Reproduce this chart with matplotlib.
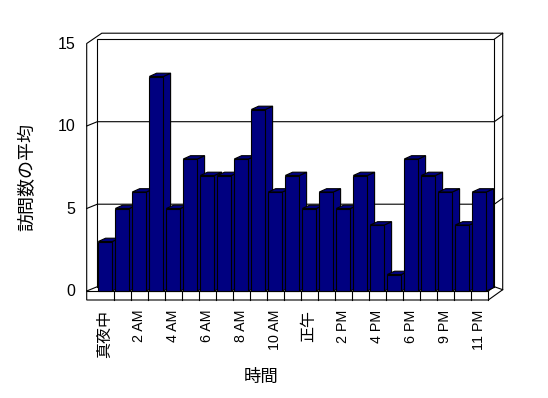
import matplotlib
matplotlib.use("Agg")
import matplotlib.pyplot as plt
from matplotlib.patches import Polygon

plt.rcParams['font.family'] = ['Liberation Sans', 'Noto Sans CJK JP', 'DejaVu Sans']

# ---- data ----
categories = ['真夜中', '1 AM', '2 AM', '3 AM', '4 AM', '5 AM', '6 AM', '7 AM',
              '8 AM', '9 AM', '10 AM', '11 AM', '正午', '1 PM', '2 PM', '3 PM',
              '4 PM', '5 PM', '6 PM', '7 PM', '9 PM', '10 PM', '11 PM']
values = [3, 5, 6, 13, 5, 8, 7, 7, 8, 11, 6, 7, 5, 6, 5, 7, 4, 1, 8, 7, 6, 4, 6]
y_ticks = [0, 5, 10, 15]
x_title = '時間'
y_title = '訪問数の平均'

# ---- layout (category units in x, value units in y) ----
W, H, DPI = 548, 398, 100
PX_X = 17.0      # pixels per category
PX_Y = 16.5      # pixels per value unit
ORIG = (97.3, 291.0)  # pixel of (0, 0) on bar front plane
n = len(values)
VMAX = y_ticks[-1]

XF0, XF1 = -10.6 / PX_X, n          # floor front left/right
XB0, XB1 = 0.0, n + 6.0 / PX_X      # back wall left/right
ZB = 4.3 / PX_Y                     # back plane lift
FLOOR_H = 9.0 / PX_Y
TX, TY = 8.4 / PX_X, 6.0 / PX_Y     # back wall thickness
BX0, BX1 = 1.0 / PX_X, 15.0 / PX_X  # bar front face within slot
BDX, BDY = 7.3 / PX_X, 3.3 / PX_Y   # bar depth

fig = plt.figure(figsize=(W / DPI, H / DPI), dpi=DPI)
ax = fig.add_axes([0, 0, 1, 1])
ax.set_xlim(-ORIG[0] / PX_X, (W - ORIG[0]) / PX_X)
ax.set_ylim((ORIG[1] - H) / PX_Y, ORIG[1] / PX_Y)
ax.axis('off')

LW = 0.8
edge = dict(edgecolor='black', linewidth=LW, joinstyle='miter')

def line(pts, z=2):
    xs, ys = zip(*pts)
    ax.plot(xs, ys, color='black', lw=LW, zorder=z, solid_joinstyle='miter')

# outer frame
outer = [(XF0, -FLOOR_H), (XF0, VMAX), (XB0 + 15.0 / PX_X * 0.3, VMAX + ZB + TY),
         (XB1 + TX, VMAX + ZB + TY), (XB1 + TX, ZB + TY - FLOOR_H),
         (XF1, -FLOOR_H)]
ax.add_patch(Polygon(outer, closed=True, facecolor='white', zorder=1, **edge))

# back wall face
line([(XB0, ZB), (XB0, VMAX + ZB), (XB1, VMAX + ZB), (XB1, ZB)])
line([(XB1, VMAX + ZB), (XB1 + TX, VMAX + ZB + TY)])
# floor edges
line([(XF0, 0), (XB0, ZB)])
line([(XF0, 0), (XF1, 0)])
line([(XF1, 0), (XB1, ZB)])
line([(XF1, 0), (XF1, -FLOOR_H)])
line([(XB1, ZB), (XB1 + TX, ZB + TY - FLOOR_H)])
for k in range(1, n):
    line([(k, 0), (k, -FLOOR_H)])

# gridlines
for v in y_ticks[1:-1]:
    line([(XF0, v), (XB0, v + ZB), (XB1, v + ZB), (XB1 + TX, v + ZB + TY)])

# bars
for i, v in enumerate(values):
    xl, xr = i + BX0, i + BX1
    z = 3 + i * 0.01
    side = [(xr, 0), (xr + BDX, BDY), (xr + BDX, v + BDY), (xr, v)]
    top = [(xl, v), (xr, v), (xr + BDX, v + BDY), (xl + BDX, v + BDY)]
    front = [(xl, 0), (xr, 0), (xr, v), (xl, v)]
    for poly in (side, top, front):
        ax.add_patch(Polygon(poly, closed=True, facecolor='#000080',
                             zorder=z, **edge))

# y tick labels
for v in y_ticks:
    ax.text(XF0 - 11.0 / PX_X, v - 0.05, str(v), ha='right', va='center',
            fontsize=11.5, color='black')

# x tick labels (every other category)
for i in range(0, n, 2):
    lab = categories[i]
    fs = 11.5 if any(ord(c) > 127 for c in lab) else 10.3
    ax.text(i + 0.45, -FLOOR_H - 10.0 / PX_Y, lab, rotation=90,
            ha='center', va='top', fontsize=fs, color='black')

# axis titles
ax.text((261.5 - ORIG[0]) / PX_X, (ORIG[1] - 377) / PX_Y, x_title,
        ha='center', va='center', fontsize=12.5)
ax.text((28 - ORIG[0]) / PX_X, (ORIG[1] - 177) / PX_Y, y_title,
        rotation=90, ha='center', va='center', fontsize=13)

fig.savefig('out.png', dpi=DPI)
